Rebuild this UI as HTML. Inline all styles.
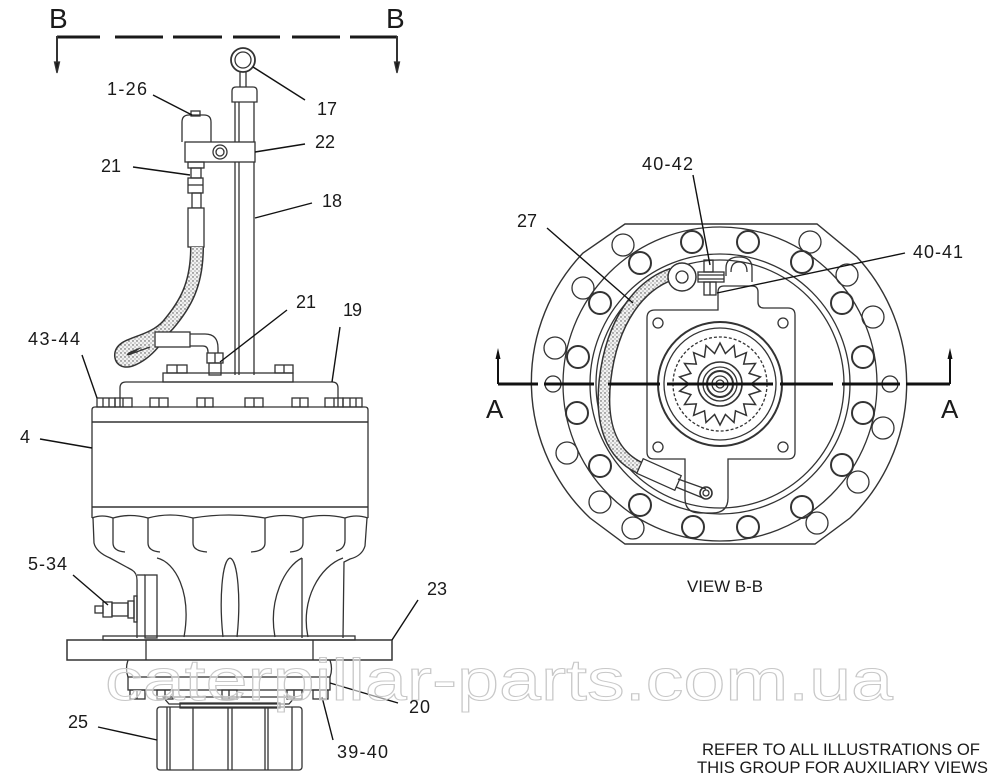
<!DOCTYPE html>
<html>
<head>
<meta charset="utf-8">
<style>
html,body{margin:0;padding:0;background:#fff;}
svg{display:block;}
text{font-family:"Liberation Sans",Arial,sans-serif;fill:#1a1a1a;}
</style>
</head>
<body>
<svg width="1000" height="784" viewBox="0 0 1000 784" xmlns="http://www.w3.org/2000/svg">
<defs>
<pattern id="st" width="4" height="4" patternUnits="userSpaceOnUse">
<rect width="4" height="4" fill="#f2f2f2"/>
<circle cx="1" cy="1" r="0.7" fill="#444"/>
<circle cx="3" cy="3" r="0.6" fill="#777"/>
</pattern>
</defs>
<rect width="1000" height="784" fill="#fff"/>

<!-- ============ LEFT VIEW ============ -->
<g fill="none" stroke="#333" stroke-width="1.3">
<!-- B-B section line -->
<g stroke="#1a1a1a" stroke-width="3">
<line x1="57" y1="37" x2="100" y2="37"/>
<line x1="115" y1="37" x2="163" y2="37"/>
<line x1="173" y1="37" x2="222" y2="37"/>
<line x1="233" y1="37" x2="280" y2="37"/>
<line x1="292" y1="37" x2="340" y2="37"/>
<line x1="350" y1="37" x2="397" y2="37"/>
</g>
<line x1="57" y1="36" x2="57" y2="64" stroke-width="2"/>
<line x1="397" y1="36" x2="397" y2="64" stroke-width="2"/>
<polygon points="54.5,62 59.5,62 57,73" fill="#1a1a1a"/>
<polygon points="394.5,62 399.5,62 397,73" fill="#1a1a1a"/>

<!-- eye bolt 17 -->
<circle cx="243" cy="60" r="12" stroke-width="1.8"/>
<circle cx="243" cy="60" r="8"/>
<path d="M240,72 L240,87 M246,72 L246,87"/>
<path d="M232,102 L232,91 Q232,87 236,87 L253,87 Q257,87 257,91 L257,102 Z"/>
<!-- tube 18 -->
<path d="M235,102 L235,375 M239,102 L239,375 M254,102 L254,375"/>

<!-- breather 1-26 -->
<rect x="191" y="111" width="9" height="5"/>
<path d="M182,142 L182,122 Q182,115 189,115 L204,115 Q211,115 211,122 L211,142"/>
<!-- clamp 22 -->
<rect x="185" y="142" width="70" height="20" fill="#fff"/>
<circle cx="220" cy="152" r="7"/>
<circle cx="220" cy="152" r="4"/>
<!-- fittings under clamp -->
<rect x="188" y="162" width="16" height="6"/>
<rect x="191" y="168" width="10" height="10"/>
<rect x="188" y="178" width="15" height="15"/>
<line x1="188" y1="185" x2="203" y2="185"/>
<rect x="192" y="193" width="9" height="15"/>
<rect x="188" y="208" width="16" height="39" fill="#fff"/>

<!-- hose -->
<path d="M197,247 C197,285 185,305 168,325 C150,345 120,342 121,356 C122,367 142,358 156,340" stroke="#333" stroke-width="14" stroke-linecap="butt"/>
<path d="M197,247 C197,285 185,305 168,325 C150,345 120,342 121,356 C122,367 142,358 156,340" stroke="url(#st)" stroke-width="11" stroke-linecap="butt"/>
<line x1="128" y1="355" x2="150" y2="347"/>
<!-- collar + elbow -->
<rect x="155" y="332" width="35" height="15" fill="#fff"/>
<path d="M190,334 L205,334 Q218,334 218,348 L218,355 M190,346 L203,346 Q208,346 208,352 L208,355" />
<rect x="207" y="353" width="16" height="10" fill="#fff"/>
<line x1="215" y1="353" x2="215" y2="363"/>
<rect x="209" y="363" width="12" height="12"/>

<!-- cover 19 -->
<rect x="167" y="365" width="20" height="8"/>
<line x1="177" y1="365" x2="177" y2="373"/>
<rect x="275" y="365" width="18" height="8"/>
<line x1="284" y1="365" x2="284" y2="373"/>
<rect x="163" y="373" width="130" height="9"/>
<path d="M120,407 L120,388 Q120,382 126,382 L332,382 Q338,382 338,388 L338,407"/>

<!-- bolts row on housing -->
<g>
<rect x="97" y="398" width="18" height="9"/><line x1="103" y1="398" x2="103" y2="407"/><line x1="109" y1="398" x2="109" y2="407"/>
<rect x="115" y="398" width="17" height="9"/><line x1="123" y1="398" x2="123" y2="407"/>
<rect x="150" y="398" width="18" height="9"/><line x1="159" y1="398" x2="159" y2="407"/>
<rect x="197" y="398" width="16" height="9"/><line x1="205" y1="398" x2="205" y2="407"/>
<rect x="245" y="398" width="18" height="9"/><line x1="254" y1="398" x2="254" y2="407"/>
<rect x="292" y="398" width="16" height="9"/><line x1="300" y1="398" x2="300" y2="407"/>
<rect x="325" y="398" width="18" height="9"/><line x1="334" y1="398" x2="334" y2="407"/>
<rect x="343" y="398" width="19" height="9"/><line x1="350" y1="398" x2="350" y2="407"/><line x1="356" y1="398" x2="356" y2="407"/>
</g>

<!-- housing 4 -->
<path d="M92,518 L92,410 Q92,407 95,407 L365,407 Q368,407 368,410 L368,518"/>
<line x1="92" y1="422" x2="368" y2="422" stroke-width="1.6"/>
<line x1="92" y1="507" x2="368" y2="507" stroke-width="1.6"/>
<path d="M92,518 Q102,514 113,518 Q130,513 148,518 Q170,512 193,518 Q229,512 265,518 Q284,513 303,518 Q324,513 345,518 Q356,514 368,518"/>

<!-- fluted lower housing -->
<path d="M93,518 L94,543 Q96,552 110,558 L132,570 Q137,573 137,580 L137,638"/>
<path d="M367,518 L365,546 Q362,556 350,559 L344,562 L343,638"/>
<path d="M113,518 L113,543 Q113,551 125,552"/>
<path d="M148,518 L148,543 Q148,551 160,552"/>
<path d="M193,518 L193,543 Q193,551 207,552"/>
<path d="M265,518 L265,543 Q265,551 251,552"/>
<path d="M303,518 L303,543 Q303,551 290,552"/>
<path d="M345,518 L345,540 Q345,549 336,551"/>
<!-- bracket -->
<rect x="145" y="575" width="12" height="63"/>
<line x1="137" y1="575" x2="145" y2="575"/>
<!-- ribs -->
<path d="M157,558 C175,562 192,592 184,637"/>
<path d="M230,558 C222,560 219,600 223,637 M230,558 C238,560 241,600 237,637"/>
<path d="M302,558 L302,638 M302,558 C285,566 268,600 275,637"/>
<path d="M343,558 C320,566 300,600 308,637"/>

<!-- fitting 5-34 -->
<rect x="95" y="606" width="8" height="7"/>
<rect x="103" y="602" width="9" height="15"/>
<rect x="112" y="603" width="16" height="13"/>
<rect x="128" y="601" width="6" height="17"/>
<rect x="134" y="596" width="3" height="26"/>

<!-- mounting plate 23 -->
<rect x="103" y="636" width="252" height="4"/>
<rect x="67" y="640" width="325" height="20" stroke-width="1.5"/>
<line x1="146" y1="640" x2="146" y2="660"/>
<line x1="313" y1="640" x2="313" y2="660"/>

<!-- ring 20 -->
<path d="M128,660 Q125,669 128,677 M330,660 Q333,669 330,677"/>
<rect x="128" y="677" width="202" height="13"/>
<rect x="130" y="690" width="15" height="9"/><line x1="137" y1="690" x2="137" y2="699"/>
<rect x="157" y="690" width="16" height="9"/><line x1="165" y1="690" x2="165" y2="699"/>
<rect x="222" y="690" width="15" height="9"/><line x1="229" y1="690" x2="229" y2="699"/>
<rect x="287" y="690" width="15" height="9"/><line x1="294" y1="690" x2="294" y2="699"/>
<rect x="313" y="690" width="15" height="9"/><line x1="320" y1="690" x2="320" y2="699"/>
<path d="M163,697 L295,697 L289,704 L169,704 Z"/>
<rect x="180" y="703" width="100" height="5"/>

<!-- pinion 25 -->
<rect x="157" y="707" width="145" height="63" rx="3"/>
<path d="M167,707 L167,770 M170,707 L170,770 M193,707 L193,770 M228,707 L228,770 M232,707 L232,770 M265,707 L265,770 M268,707 L268,770 M292,707 L292,770"/>
</g>

<!-- left leaders -->
<g stroke="#111" stroke-width="1.4" fill="none">
<line x1="153" y1="95" x2="192" y2="115"/>
<line x1="253" y1="67" x2="305" y2="100"/>
<line x1="255" y1="152" x2="305" y2="144"/>
<line x1="133" y1="167" x2="190" y2="175"/>
<line x1="312" y1="203" x2="255" y2="218"/>
<line x1="287" y1="310" x2="220" y2="362"/>
<line x1="340" y1="327" x2="332" y2="382"/>
<line x1="82" y1="355" x2="97" y2="398"/>
<line x1="40" y1="439" x2="92" y2="448"/>
<line x1="73" y1="575" x2="108" y2="605"/>
<line x1="418" y1="600" x2="392" y2="640"/>
<line x1="330" y1="683" x2="398" y2="703"/>
<line x1="333" y1="740" x2="322" y2="697"/>
<line x1="98" y1="727" x2="157" y2="740"/>
</g>

<!-- ============ RIGHT VIEW ============ -->
<g fill="none" stroke="#333" stroke-width="1.3">
<path d="M625,224 L817,224 L857,257 A187,187 0 0 1 850,518 L815,544 L625,544 L590,518 A187,187 0 0 1 583,253 Z" stroke-width="1.4"/>
<circle cx="720" cy="384" r="157"/>
<circle cx="720" cy="384" r="130"/>
<circle cx="720" cy="384" r="124"/>

<!-- thin holes outer ring -->
<g>
<circle cx="623" cy="245" r="11"/>
<circle cx="583" cy="288" r="11"/>
<circle cx="555" cy="348" r="11"/>
<circle cx="567" cy="453" r="11"/>
<circle cx="600" cy="502" r="11"/>
<circle cx="633" cy="528" r="11"/>
<circle cx="810" cy="242" r="11"/>
<circle cx="847" cy="275" r="11"/>
<circle cx="873" cy="317" r="11"/>
<circle cx="883" cy="428" r="11"/>
<circle cx="858" cy="482" r="11"/>
<circle cx="817" cy="523" r="11"/>
<circle cx="553" cy="384" r="8"/>
<circle cx="890" cy="384" r="8"/>
</g>
<!-- thick holes -->
<g stroke-width="2">
<circle cx="640" cy="263" r="11"/>
<circle cx="692" cy="242" r="11"/>
<circle cx="600" cy="303" r="11"/>
<circle cx="578" cy="357" r="11"/>
<circle cx="577" cy="413" r="11"/>
<circle cx="600" cy="466" r="11"/>
<circle cx="640" cy="505" r="11"/>
<circle cx="693" cy="527" r="11"/>
<circle cx="748" cy="242" r="11"/>
<circle cx="802" cy="262" r="11"/>
<circle cx="842" cy="303" r="11"/>
<circle cx="863" cy="357" r="11"/>
<circle cx="863" cy="413" r="11"/>
<circle cx="842" cy="465" r="11"/>
<circle cx="802" cy="507" r="11"/>
<circle cx="748" cy="527" r="11"/>
</g>

<!-- inner plate -->
<path d="M655,310 L718,310 L718,292 Q718,286 724,286 L752,286 Q758,286 758,292 L758,302 Q758,308 764,308 L788,308 Q795,308 795,315 L795,452 Q795,459 788,459 L728,459 L728,498 Q728,513 712,513 L700,513 Q685,513 685,498 L685,459 L654,459 Q647,459 647,452 L647,318 Q647,310 655,310 Z"/>
<circle cx="658" cy="323" r="5"/>
<circle cx="783" cy="323" r="5"/>
<circle cx="658" cy="447" r="5"/>
<circle cx="783" cy="447" r="5"/>

<!-- gear -->
<circle cx="720" cy="384" r="62" stroke-width="2"/>
<circle cx="720" cy="384" r="56"/>
<circle cx="720" cy="384" r="47" stroke-dasharray="3 2"/>
<polygon points="751,384 760.4,391.1 749.1,394.6 755.5,404.5 743.7,403.9 746.4,415.4 735.5,410.8 734,422.5 725.4,414.5 720,425 714.6,414.5 706,422.5 704.5,410.8 693.6,415.4 696.3,403.9 684.5,404.5 690.9,394.6 679.6,391.1 689,384 679.6,376.9 690.9,373.4 684.5,363.5 696.3,364.1 693.6,352.6 704.5,357.2 706,345.5 714.6,353.5 720,343 725.4,353.5 734,345.5 735.5,357.2 746.4,352.6 743.7,364.1 755.5,363.5 749.1,373.4 760.4,376.9" stroke-width="1.5"/>
<circle cx="720" cy="384" r="22" stroke-width="1.6"/>
<circle cx="720" cy="384" r="17"/>
<circle cx="720" cy="384" r="13" stroke-width="2"/>
<circle cx="720" cy="384" r="8"/>
<circle cx="720" cy="384" r="4"/>

<!-- hose 27 -->
<path d="M672,274 C640,285 612,320 605,380 C600,425 612,455 640,468" stroke="#333" stroke-width="13"/>
<path d="M672,274 C640,285 612,320 605,380 C600,425 612,455 640,468" stroke="url(#st)" stroke-width="10"/>
<!-- top fitting -->
<circle cx="682" cy="277" r="14" fill="#fff" stroke-width="1.5"/>
<circle cx="682" cy="277" r="6"/>
<rect x="698" y="272" width="26" height="10" fill="#fff"/>
<line x1="698" y1="275" x2="724" y2="275"/>
<line x1="698" y1="279" x2="724" y2="279"/>
<rect x="704" y="260" width="9" height="12"/>
<rect x="704" y="282" width="12" height="13"/>
<line x1="710" y1="282" x2="710" y2="295"/>
<path d="M726,276 L726,268 Q726,257 739,257 Q752,257 752,268 L752,282 M731,272 Q731,262 739,262 Q747,262 747,272"/>
<!-- bottom sleeve -->
<polygon points="636.8,473.3 643.2,458.7 681.2,475.7 674.8,490.3" fill="#fff"/>
<path d="M678,479 L706,489 M676,487 L703,498"/>
<circle cx="706" cy="493" r="6" stroke-width="1.6"/>
<circle cx="706" cy="493" r="3"/>
</g>

<!-- A-A section line -->
<g stroke="#111" stroke-width="3">
<line x1="498" y1="384" x2="538" y2="384"/>
<line x1="544" y1="384" x2="594" y2="384"/>
<line x1="608" y1="384" x2="660" y2="384"/>
<line x1="667" y1="384" x2="773" y2="384"/>
<line x1="780" y1="384" x2="833" y2="384"/>
<line x1="842" y1="384" x2="900" y2="384"/>
<line x1="906" y1="384" x2="950" y2="384"/>
</g>
<line x1="498" y1="384" x2="498" y2="357" stroke="#111" stroke-width="2"/>
<line x1="950" y1="384" x2="950" y2="357" stroke="#111" stroke-width="2"/>
<polygon points="495.5,359 500.5,359 498,348" fill="#111"/>
<polygon points="947.5,359 952.5,359 950,348" fill="#111"/>

<!-- right leaders -->
<g stroke="#111" stroke-width="1.4">
<line x1="693" y1="175" x2="710" y2="265"/>
<line x1="547" y1="228" x2="633" y2="303"/>
<line x1="905" y1="253" x2="717" y2="293"/>
</g>

<!-- watermark -->
<text x="105" y="700" font-size="58" textLength="788" lengthAdjust="spacingAndGlyphs" style="fill:#fff;fill-opacity:0.55;stroke:#c8c8c8;stroke-width:1">caterpillar-parts.com.ua</text>

<!-- labels -->
<g font-size="18">
<text x="107" y="95" textLength="40" lengthAdjust="spacing">1-26</text>
<text x="317" y="115" textLength="20">17</text>
<text x="315" y="148" textLength="20">22</text>
<text x="101" y="172" textLength="20">21</text>
<text x="322" y="207" textLength="20">18</text>
<text x="296" y="308" textLength="20">21</text>
<text x="343" y="316" textLength="19">19</text>
<text x="28" y="345" textLength="52" lengthAdjust="spacing">43-44</text>
<text x="20" y="443">4</text>
<text x="28" y="570" textLength="39" lengthAdjust="spacing">5-34</text>
<text x="427" y="595" textLength="20">23</text>
<text x="409" y="713" textLength="21">20</text>
<text x="68" y="728" textLength="20">25</text>
<text x="337" y="758" textLength="51" lengthAdjust="spacing">39-40</text>
<text x="642" y="170" textLength="51" lengthAdjust="spacing">40-42</text>
<text x="517" y="227" textLength="20">27</text>
<text x="913" y="258" textLength="50" lengthAdjust="spacing">40-41</text>
</g>
<text x="486" y="418" font-size="26">A</text>
<text x="941" y="418" font-size="26">A</text>
<text x="49" y="28" font-size="28">B</text>
<text x="386" y="28" font-size="28">B</text>
<text x="687" y="592" font-size="17" textLength="76" lengthAdjust="spacingAndGlyphs">VIEW B-B</text>
<text x="702" y="755" font-size="17" textLength="278" lengthAdjust="spacingAndGlyphs">REFER TO ALL ILLUSTRATIONS OF</text>
<text x="697" y="773" font-size="17" textLength="291" lengthAdjust="spacingAndGlyphs">THIS GROUP FOR AUXILIARY VIEWS</text>
</svg>
</body>
</html>
